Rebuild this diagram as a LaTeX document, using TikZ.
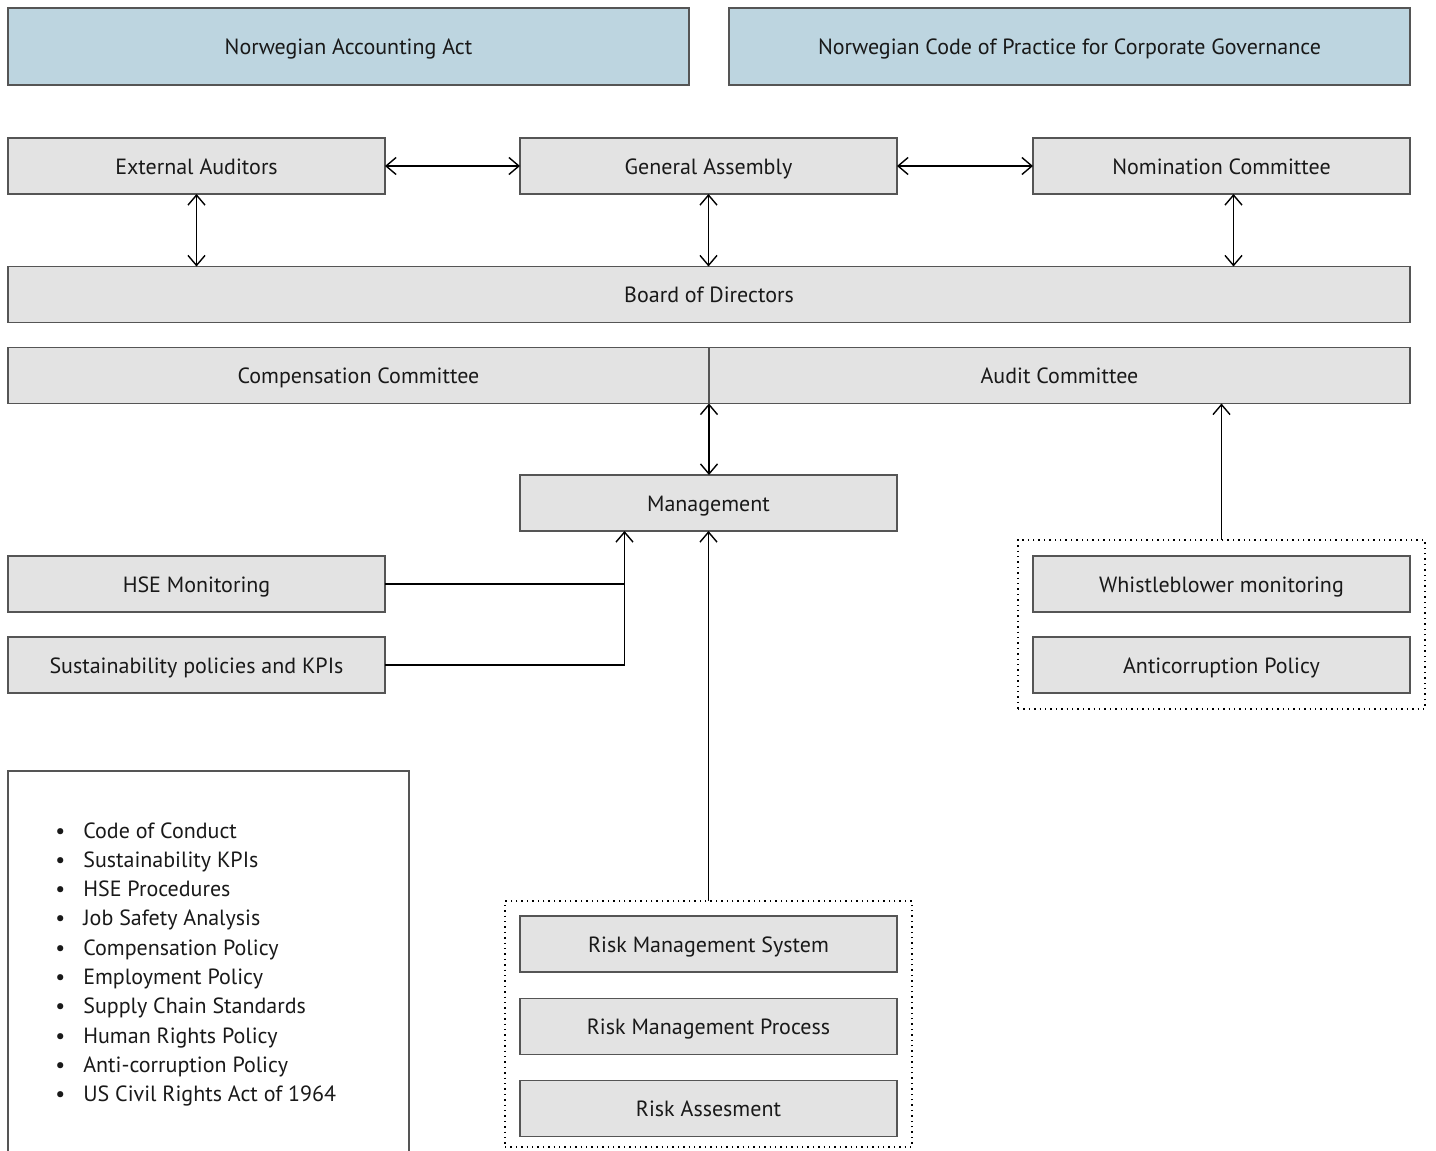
\documentclass[tikz,border=0pt]{standalone}
\usepackage{fontspec}
\setmainfont{PT Sans}
\usepackage{tikz}
\usetikzlibrary{arrows.meta,calc}
\definecolor{boxgray}{HTML}{E3E3E3}
\definecolor{lawblue}{HTML}{BDD5E0}
\definecolor{edgegray}{HTML}{555555}
\tikzset{
  x=0.5pt, y=-0.5pt,
  >={Straight Barb[length=5pt,width=8.5pt]},
  every node/.style={font=\fontsize{11}{13}\selectfont, text=black!90},
  box/.style={draw=edgegray, line width=0.7pt, fill=boxgray, inner sep=0pt, outer sep=0pt, text height=10.5pt, text depth=2.4pt, minimum width=188.5pt, minimum height=28pt},
  lawbox/.style={box, fill=lawblue, minimum width=340.5pt, minimum height=38.5pt},
  wide/.style={box, minimum width=350.5pt},
  dotframe/.style={draw, dotted, line width=0.7pt, inner sep=0pt, outer sep=0pt, minimum width=203.5pt},
  link/.style={line width=0.7pt}
}
\begin{document}
\begin{tikzpicture}
    \useasboundingbox (0,0) rectangle (1436,1151);
    \node[lawbox] (acc)  at (348.5,46.5)  {Norwegian Accounting Act};
    \node[lawbox] (code) at (1069.5,46.5) {Norwegian Code of Practice for Corporate Governance};
    \node[box] (ext)  at (196.5,166)  {External Auditors};
    \node[box] (ga)   at (708.5,166)  {General Assembly};
    \node[box] (nom)  at (1221.5,166) {Nomination Committee};
    \node[box, minimum width=701pt] (board) at (709,294.5) {Board of Directors};
    \node[wide] (comp)  at (358.5,375.5)  {Compensation Committee};
    \node[wide] (audit) at (1059.5,375.5) {Audit Committee};
    \node[box] (mgmt) at (708.5,503) {Management};
    \node[box] (hse)  at (196.5,584) {HSE Monitoring};
    \node[box] (sust) at (196.5,665) {Sustainability policies and KPIs};
    \node[dotframe, minimum height=84.5pt] (wbframe) at (1221.5,624.5) {};
    \node[box] (wb)   at (1221.5,584) {Whistleblower monitoring};
    \node[box] (anti) at (1221.5,665) {Anticorruption Policy};
    \node[draw=edgegray, line width=0.7pt, inner sep=0pt, minimum width=200.5pt, minimum height=195pt] (policies) at (208.5,966) {};
    \foreach \item [count=\i] in {Code of Conduct, Sustainability KPIs, HSE Procedures, Job Safety Analysis, Compensation Policy, Employment Policy, Supply Chain Standards, Human Rights Policy, Anti-corruption Policy, US Civil Rights Act of 1964}
        \node[anchor=base west, inner sep=0pt] (item\i) at (55,{838+29.33*(\i-1)}) {\textbullet\hspace{9pt}\item};
    \node[dotframe, minimum height=123pt] (riskframe) at (708.5,1024) {};
    \node[box] (rms) at (708.5,944)  {Risk Management System};
    \node[box] (rmp) at (708.5,1026.5) {Risk Management Process};
    \node[box] (ra)  at (708.5,1108.5) {Risk Assesment};
    \draw[link,<->] (ext) -- (ga);
    \draw[link,<->] (ga) -- (nom);
    \draw[link,<->] (ext.south) -- (ext.south |- board.north);
    \draw[link,<->] (ga.south) -- (ga.south |- board.north);
    \draw[link,<->] ([xshift=6pt]nom.south) -- ([xshift=6pt]nom.south |- board.north);
    \draw[link,<->] (comp.south east) -- (comp.south east |- mgmt.north);
    \coordinate (join) at ([xshift=-42pt]mgmt.south);
    \draw[link] (hse.east) -- (hse.east -| join);
    \draw[link,->] (sust.east) -| (join);
    \draw[link,->] (riskframe.north) -- (riskframe.north |- mgmt.south);
    \draw[link,->] (wbframe.north) -- (wbframe.north |- audit.south);
\end{tikzpicture}
\end{document}
